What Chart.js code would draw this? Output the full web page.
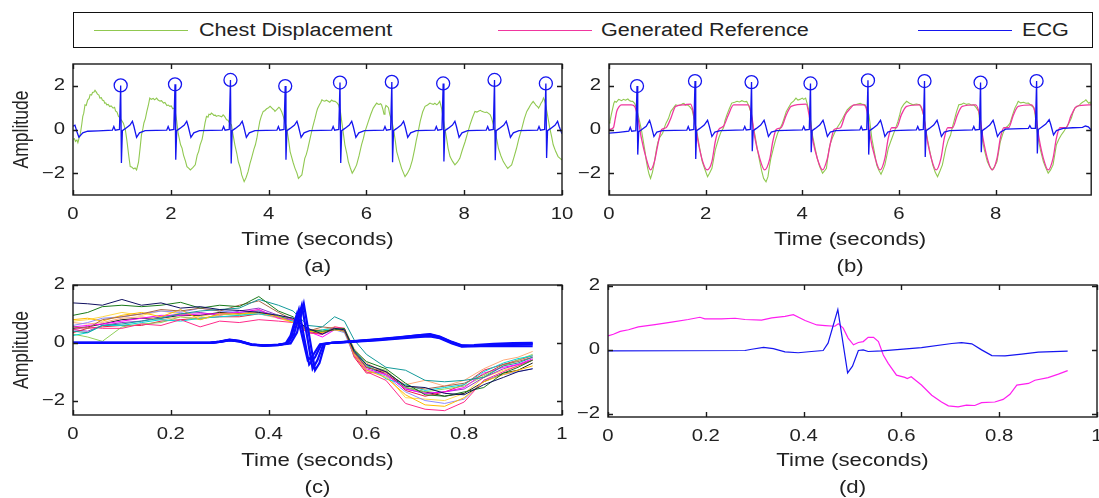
<!DOCTYPE html>
<html>
<head>
<meta charset="utf-8">
<script src="https://cdn.jsdelivr.net/npm/chart.js@4.4.1/dist/chart.umd.min.js"></script>
<style>
    body { margin: 0; background: #fff; width: 1099px; height: 498px; overflow: hidden; position: relative;
           font-family: "Liberation Sans", Arial, Helvetica, sans-serif; color: #222; }
    canvas { position: absolute; }
    #legend { position: absolute; left: 73px; top: 12px; width: 1018px; height: 34px; border: 1.5px solid #111; }
    .key { position: absolute; top: 17px; height: 0; border-top: 1.5px solid; }
    .label { position: absolute; top: 6px; font-size: 18px; line-height: 22px; transform: scaleX(1.2); transform-origin: left center; white-space: nowrap; }
</style>
</head>
<body>
<div id="legend"></div>
<canvas id="chartA" width="575" height="224" style="left:0px;top:56px"></canvas>
<canvas id="chartB" width="524" height="224" style="left:575px;top:56px"></canvas>
<canvas id="chartC" width="575" height="233" style="left:0px;top:268px"></canvas>
<canvas id="chartD" width="524" height="233" style="left:575px;top:268px"></canvas>
<script>
const GREEN = '#90c850';
const PINK = '#f0369f';
const MAGENTA = '#ff1ef0';
const BLUE = '#1515f0';

const legendLabels = ['Chest Displacement', 'Generated Reference', 'ECG'];
const legendColors = [GREEN, PINK, BLUE];

// (a) raw chest displacement and ECG, 0-10 s
const chestA = [[0,-0.45],[0.03,-0.42],[0.05,-0.55],[0.08,-0.48],[0.1,-0.6],[0.13,-0.35],[0.15,-0.2],[0.18,0.25],[0.2,0.6],[0.22,0.75],
    [0.245,1.13],[0.27,1.1],[0.3,1.35],[0.33,1.42],[0.35,1.6],[0.38,1.58],[0.4,1.7],[0.43,1.72],[0.45,1.8],[0.48,1.7],
    [0.5,1.62],[0.53,1.58],[0.55,1.44],[0.58,1.46],[0.6,1.35],[0.63,1.32],[0.65,1.2],[0.67,1.22],[0.69,1.13],[0.72,1.15],
    [0.75,1.05],[0.78,1.08],[0.82,0.98],[0.85,1.02],[0.87,0.85],[0.9,0.8],[0.93,0.6],[0.96,0.55],[0.98,0.45],[1.0,0.4],
    [1.03,0.29],[1.07,0.0],[1.1,-0.47],[1.14,-1.2],[1.17,-1.7],[1.2,-1.72],[1.24,-1.8],[1.27,-1.76],[1.3,-1.85],[1.34,-1.5],
    [1.37,-0.9],[1.4,-0.25],[1.43,0.05],[1.45,0.3],[1.48,0.5],[1.51,0.83],[1.54,1.1],[1.57,1.44],[1.6,1.38],[1.64,1.42],
    [1.67,1.36],[1.71,1.44],[1.74,1.35],[1.78,1.3],[1.81,1.32],[1.85,1.21],[1.88,1.24],[1.92,1.1],[1.95,1.12],[1.98,1.06],
    [2.01,1.08],[2.04,0.95],[2.07,0.98],[2.09,0.83],[2.12,0.4],[2.15,-0.17],[2.2,-0.7],[2.23,-0.85],[2.26,-1.17],[2.3,-1.45],
    [2.33,-1.7],[2.37,-1.78],[2.4,-1.85],[2.45,-1.75],[2.5,-1.62],[2.54,-1.17],[2.57,-1.0],[2.6,-0.7],[2.64,-0.45],[2.67,-0.1],
    [2.7,0.3],[2.73,0.6],[2.76,0.56],[2.78,0.7],[2.81,0.68],[2.83,0.75],[2.86,0.7],[2.88,0.65],[2.91,0.66],[2.93,0.6],
    [2.97,0.64],[3.0,0.62],[3.04,0.58],[3.07,0.67],[3.1,0.6],[3.14,0.44],[3.17,0.42],[3.2,0.3],[3.24,0.22],[3.27,-0.2],
    [3.31,-0.7],[3.35,-1.1],[3.38,-1.47],[3.42,-1.75],[3.45,-2.08],[3.5,-2.39],[3.54,-2.2],[3.58,-1.93],[3.62,-1.55],[3.65,-1.32],
    [3.7,-0.9],[3.73,-0.7],[3.76,-0.4],[3.79,0.0],[3.82,0.37],[3.85,0.6],[3.89,0.83],[3.92,0.86],[3.96,0.95],[3.99,0.98],
    [4.03,1.06],[4.06,1.0],[4.08,0.95],[4.11,0.9],[4.13,0.83],[4.16,0.9],[4.18,0.95],[4.21,1.02],[4.23,0.98],[4.27,0.8],
    [4.3,0.6],[4.34,0.3],[4.37,0.06],[4.41,-0.5],[4.44,-1.01],[4.47,-1.25],[4.5,-1.5],[4.54,-1.78],[4.58,-2.0],[4.61,-2.24],
    [4.65,-2.15],[4.68,-2.08],[4.71,-1.7],[4.74,-1.32],[4.77,-1.15],[4.8,-0.9],[4.85,-0.4],[4.9,0.1],[4.95,0.52],[4.98,0.8],
    [5.0,0.95],[5.04,1.13],[5.07,1.25],[5.09,1.36],[5.12,1.32],[5.15,1.3],[5.18,1.34],[5.22,1.29],[5.25,1.25],[5.29,1.35],
    [5.32,1.3],[5.36,1.29],[5.4,1.22],[5.43,1.13],[5.47,0.8],[5.5,0.29],[5.53,-0.2],[5.56,-0.7],[5.6,-1.1],[5.63,-1.47],
    [5.67,-1.75],[5.71,-2.0],[5.75,-1.85],[5.8,-1.62],[5.85,-1.2],[5.9,-0.7],[5.94,-0.4],[5.97,-0.1],[6.0,0.1],[6.04,0.37],
    [6.09,0.7],[6.14,0.98],[6.17,1.08],[6.21,1.21],[6.24,1.16],[6.26,1.15],[6.29,1.18],[6.31,1.13],[6.34,0.9],[6.36,0.7],
    [6.38,0.95],[6.4,1.1],[6.43,1.05],[6.45,1.0],[6.48,0.67],[6.52,0.4],[6.55,0.06],[6.59,-0.5],[6.62,-1.01],[6.67,-1.4],
    [6.72,-1.78],[6.76,-2.0],[6.79,-2.16],[6.84,-2.0],[6.89,-1.78],[6.94,-1.4],[6.99,-0.86],[7.02,-0.5],[7.05,-0.2],[7.1,0.37],
    [7.15,0.8],[7.2,1.06],[7.25,1.12],[7.3,1.21],[7.33,1.18],[7.37,1.15],[7.4,1.2],[7.44,1.13],[7.47,1.2],[7.5,1.29],
    [7.54,0.95],[7.57,0.52],[7.6,0.1],[7.64,-0.4],[7.67,-0.85],[7.71,-1.24],[7.76,-1.45],[7.81,-1.62],[7.86,-1.5],[7.91,-1.32],
    [7.96,-0.95],[8.02,-0.55],[8.07,-0.15],[8.12,0.22],[8.17,0.55],[8.22,0.83],[8.26,0.8],[8.3,0.85],[8.33,0.88],[8.36,0.83],
    [8.4,0.8],[8.43,0.78],[8.46,0.8],[8.49,0.75],[8.53,0.68],[8.56,0.52],[8.6,0.2],[8.63,-0.1],[8.67,-0.5],[8.7,-0.86],
    [8.75,-1.2],[8.8,-1.47],[8.85,-1.65],[8.89,-1.78],[8.93,-1.7],[8.97,-1.62],[9.02,-1.25],[9.07,-0.86],[9.12,-0.4],[9.18,0.06],
    [9.23,0.5],[9.28,0.83],[9.32,0.98],[9.35,1.1],[9.38,1.2],[9.41,1.29],[9.44,1.2],[9.47,1.1],[9.5,1.05],[9.52,0.98],
    [9.55,1.1],[9.57,1.2],[9.6,1.3],[9.62,1.44],[9.64,1.35],[9.66,1.2],[9.69,0.83],[9.72,0.45],[9.75,0.06],[9.79,-0.35],
    [9.82,-0.7],[9.87,-1.0],[9.92,-1.24],[9.96,-1.32],[10.0,-1.4]];

const ecgA = [[0,0.15],[0.04,0.2],[0.08,-0.1],[0.12,-0.35],[0.2,-0.15],[0.3,-0.08],[0.52,-0.06],
    [0.805,-0.03],[0.835,0.14],[0.865,-0.03],[0.95,0.0],[0.975,2.02],[0.99,-1.53],[1.01,-0.05],[1.075,0.05],[1.165,0.2],[1.215,0.38],[1.245,0.15],[1.3,-0.36],[1.36,-0.15],[1.475,-0.05],
    [1.916,-0.03],[1.946,0.14],[1.976,-0.03],[2.061,0.0],[2.086,2.07],[2.101,-1.38],[2.121,-0.05],[2.186,0.05],[2.276,0.2],[2.326,0.38],[2.356,0.15],[2.411,-0.36],[2.471,-0.15],[2.586,-0.05],
    [3.05,-0.03],[3.08,0.14],[3.11,-0.03],[3.195,0.0],[3.22,2.27],[3.235,-1.56],[3.255,-0.05],[3.32,0.05],[3.41,0.2],[3.46,0.38],[3.49,0.15],[3.545,-0.36],[3.605,-0.15],[3.72,-0.05],
    [4.17,-0.03],[4.2,0.14],[4.23,-0.03],[4.315,0.0],[4.34,1.99],[4.355,-1.38],[4.375,-0.05],[4.44,0.05],[4.53,0.2],[4.58,0.38],[4.61,0.15],[4.665,-0.36],[4.725,-0.15],[4.84,-0.05],
    [5.29,-0.03],[5.32,0.14],[5.35,-0.03],[5.435,0.0],[5.46,2.15],[5.475,-1.53],[5.495,-0.05],[5.56,0.05],[5.65,0.2],[5.7,0.38],[5.73,0.15],[5.785,-0.36],[5.845,-0.15],[5.96,-0.05],
    [6.35,-0.03],[6.38,0.14],[6.41,-0.03],[6.495,0.0],[6.52,2.18],[6.535,-1.5],[6.555,-0.05],[6.62,0.05],[6.71,0.2],[6.76,0.38],[6.79,0.15],[6.845,-0.36],[6.905,-0.15],[7.02,-0.05],
    [7.4,-0.03],[7.43,0.14],[7.46,-0.03],[7.545,0.0],[7.57,2.11],[7.585,-1.46],[7.605,-0.05],[7.67,0.05],[7.76,0.2],[7.81,0.38],[7.84,0.15],[7.895,-0.36],[7.955,-0.15],[8.07,-0.05],
    [8.45,-0.03],[8.48,0.14],[8.51,-0.03],[8.595,0.0],[8.62,2.27],[8.635,-1.41],[8.655,-0.05],[8.72,0.05],[8.81,0.2],[8.86,0.38],[8.89,0.15],[8.945,-0.36],[9.005,-0.15],[9.12,-0.05],
    [9.5,-0.03],[9.53,0.14],[9.56,-0.03],[9.645,0.0],[9.67,2.11],[9.685,-1.3],[9.705,-0.05],[9.77,0.05],[9.86,0.2],[9.91,0.38],[9.94,0.15],[10.0,-0.2]];

const peaksA = [[0.975,2.02],[2.086,2.07],[3.22,2.27],[4.34,1.99],[5.46,2.15],[6.52,2.18],[7.57,2.11],[8.62,2.27],[9.67,2.11]];

// (b) chest displacement, generated reference and ECG
const chestB = [[0,0.3],[0.02,0.37],[0.05,0.7],[0.07,0.9],[0.1,1.2],[0.12,1.29],[0.15,1.25],[0.17,1.3],[0.2,1.38],[0.22,1.36],
    [0.26,1.32],[0.3,1.38],[0.34,1.34],[0.39,1.4],[0.42,1.33],[0.45,1.3],[0.49,1.29],[0.53,1.2],[0.57,0.98],[0.62,0.5],
    [0.67,0.0],[0.7,-0.4],[0.74,-0.93],[0.77,-1.4],[0.8,-1.78],[0.83,-2.05],[0.86,-2.24],[0.9,-1.95],[0.93,-1.62],[0.98,-0.93],
    [1.01,-0.6],[1.04,-0.4],[1.07,-0.3],[1.11,-0.17],[1.14,0.05],[1.18,0.29],[1.23,0.5],[1.28,0.83],[1.33,0.98],[1.38,1.13],
    [1.43,1.1],[1.49,1.13],[1.52,1.18],[1.55,1.2],[1.58,1.12],[1.62,1.13],[1.67,1.05],[1.72,0.9],[1.77,0.4],[1.83,-0.25],
    [1.88,-0.9],[1.93,-1.47],[1.98,-1.8],[2.04,-2.16],[2.08,-2.0],[2.13,-1.78],[2.17,-1.3],[2.2,-0.93],[2.27,-0.4],[2.32,-0.1],
    [2.37,0.08],[2.4,0.4],[2.44,0.67],[2.49,0.95],[2.54,1.21],[2.6,1.25],[2.65,1.29],[2.7,1.26],[2.75,1.32],[2.8,1.27],
    [2.85,1.29],[2.89,1.1],[2.93,0.83],[2.97,0.3],[3.02,-0.25],[3.07,-0.9],[3.12,-1.47],[3.16,-1.9],[3.2,-2.24],[3.25,-2.4],
    [3.29,-2.16],[3.32,-1.7],[3.35,-1.32],[3.42,-0.7],[3.45,-0.45],[3.49,-0.17],[3.54,0.05],[3.59,0.29],[3.63,0.55],[3.67,0.83],
    [3.72,1.02],[3.77,1.21],[3.82,1.3],[3.87,1.44],[3.91,1.35],[3.95,1.38],[4.0,1.44],[4.03,1.38],[4.07,1.44],[4.1,1.2],
    [4.14,0.83],[4.18,0.3],[4.21,-0.25],[4.26,-0.8],[4.31,-1.32],[4.36,-1.7],[4.42,-2.0],[4.46,-1.9],[4.5,-1.78],[4.55,-0.93],
    [4.58,-0.65],[4.62,-0.4],[4.67,-0.15],[4.72,0.08],[4.77,0.25],[4.82,0.44],[4.87,0.65],[4.93,0.9],[5.0,1.06],[5.05,1.1],
    [5.1,1.13],[5.15,1.17],[5.2,1.2],[5.25,1.15],[5.3,1.13],[5.34,0.95],[5.38,0.67],[5.44,-0.4],[5.49,-1.0],[5.54,-1.62],
    [5.58,-1.85],[5.63,-2.05],[5.67,-1.85],[5.71,-1.62],[5.75,-1.2],[5.78,-0.86],[5.83,-0.55],[5.88,-0.25],[5.93,0.05],[5.98,0.37],
    [6.02,0.7],[6.05,0.98],[6.1,1.15],[6.16,1.29],[6.22,1.2],[6.29,1.13],[6.36,1.17],[6.43,1.13],[6.47,0.95],[6.51,0.67],
    [6.55,0.1],[6.6,-0.55],[6.65,-1.1],[6.7,-1.62],[6.75,-1.95],[6.8,-2.16],[6.85,-1.9],[6.9,-1.62],[6.94,-1.2],[6.97,-0.86],
    [7.02,-0.5],[7.07,-0.25],[7.1,0.05],[7.14,0.37],[7.19,0.8],[7.24,1.13],[7.29,1.15],[7.34,1.21],[7.4,1.15],[7.45,1.18],
    [7.5,1.12],[7.55,1.13],[7.6,1.0],[7.65,0.83],[7.68,0.2],[7.72,-0.4],[7.77,-0.95],[7.83,-1.47],[7.88,-1.7],[7.93,-1.85],
    [7.98,-1.7],[8.03,-1.47],[8.07,-0.95],[8.1,-0.55],[8.15,-0.2],[8.2,0.08],[8.25,0.15],[8.3,0.29],[8.35,0.65],[8.4,0.98],
    [8.44,1.15],[8.47,1.29],[8.52,1.22],[8.58,1.25],[8.63,1.2],[8.68,1.21],[8.74,1.1],[8.8,0.98],[8.84,0.3],[8.88,-0.4],
    [8.93,-0.95],[8.99,-1.47],[9.04,-1.75],[9.09,-2.0],[9.14,-1.85],[9.19,-1.62],[9.23,-1.1],[9.26,-0.7],[9.31,-0.45],[9.36,-0.25],
    [9.41,-0.1],[9.46,0.08],[9.52,0.3],[9.57,0.52],[9.6,0.75],[9.64,0.98],[9.69,1.05],[9.74,1.13],[9.77,1.2],[9.8,1.25],
    [9.84,1.3],[9.87,1.36],[9.9,1.28],[9.93,1.2],[9.96,1.25],[9.98,1.13]];

const referenceB = [[0,0.0],[0.09,0.08],[0.13,0.5],[0.16,0.83],[0.21,1.05],[0.26,1.13],[0.46,1.13],[0.53,1.06],[0.6,0.52],[0.67,-0.4],
    [0.77,-1.32],[0.86,-1.85],[0.94,-1.47],[1.01,-0.7],[1.09,0.0],[1.18,0.08],[1.28,0.52],[1.38,1.06],[1.55,1.13],[1.69,1.16],
    [1.74,0.83],[1.83,-0.4],[1.93,-1.4],[2.03,-1.85],[2.13,-1.47],[2.2,-0.55],[2.27,0.0],[2.37,0.15],[2.47,0.67],[2.58,1.13],
    [2.88,1.13],[2.95,0.67],[3.02,-0.4],[3.12,-1.32],[3.22,-1.85],[3.33,-1.32],[3.39,-0.55],[3.46,0.0],[3.56,0.08],[3.67,0.67],
    [3.77,1.06],[4.08,1.16],[4.14,0.67],[4.21,-0.4],[4.31,-1.32],[4.42,-1.85],[4.52,-1.32],[4.59,-0.55],[4.66,0.0],[4.79,0.08],
    [4.89,0.67],[5.0,0.98],[5.07,1.13],[5.27,1.13],[5.34,0.83],[5.4,-0.25],[5.51,-1.32],[5.61,-1.85],[5.71,-1.32],[5.78,-0.4],
    [5.85,0.08],[5.95,0.08],[6.05,0.67],[6.16,1.06],[6.43,1.13],[6.51,0.67],[6.58,-0.4],[6.67,-1.32],[6.77,-1.85],[6.87,-1.32],
    [6.94,-0.4],[7.01,0.08],[7.11,0.08],[7.21,0.67],[7.31,1.06],[7.59,1.13],[7.67,0.67],[7.74,-0.4],[7.83,-1.32],[7.93,-1.85],
    [8.03,-1.32],[8.1,-0.4],[8.17,0.08],[8.27,0.08],[8.37,0.67],[8.47,1.06],[8.75,1.13],[8.83,0.67],[8.9,-0.4],[8.99,-1.32],
    [9.09,-1.85],[9.19,-1.32],[9.26,-0.4],[9.33,0.08],[9.46,0.08],[9.57,0.67],[9.68,1.06],[9.98,1.13]];

const ecgB = [[0,-0.17],[0.2,-0.13],[0.41,-0.08],
    [0.44,0.1],[0.47,-0.08],[0.555,-0.05],[0.58,1.99],[0.595,-1.15],[0.615,-0.1],[0.68,0.0],[0.77,0.15],[0.84,0.42],[0.87,0.2],[0.93,-0.32],[0.99,-0.12],[1.1,-0.05],
    [1.61,-0.03],[1.64,0.14],[1.67,-0.03],[1.755,0.0],[1.78,2.22],[1.795,-1.35],[1.815,-0.05],[1.88,0.05],[1.97,0.2],[2.04,0.42],[2.07,0.2],[2.13,-0.32],[2.19,-0.12],[2.3,-0.05],
    [2.78,-0.02],[2.81,0.14],[2.84,-0.02],[2.925,0.0],[2.95,2.17],[2.965,-1.0],[2.985,-0.05],[3.05,0.05],[3.14,0.2],[3.21,0.42],[3.24,0.2],[3.3,-0.32],[3.36,-0.12],[3.47,-0.05],
    [4.0,-0.02],[4.03,0.14],[4.06,-0.02],[4.145,0.0],[4.17,2.11],[4.185,-1.04],[4.205,-0.05],[4.27,0.05],[4.36,0.2],[4.43,0.42],[4.46,0.2],[4.52,-0.32],[4.58,-0.12],[4.69,-0.05],
    [5.19,-0.02],[5.22,0.14],[5.25,-0.02],[5.335,0.0],[5.36,2.25],[5.375,-1.15],[5.395,-0.05],[5.46,0.05],[5.55,0.2],[5.62,0.42],[5.65,0.2],[5.71,-0.32],[5.77,-0.12],[5.88,-0.05],
    [6.36,-0.02],[6.39,0.14],[6.42,-0.02],[6.505,0.0],[6.53,2.22],[6.545,-1.26],[6.565,-0.05],[6.63,0.05],[6.72,0.2],[6.79,0.42],[6.82,0.2],[6.88,-0.32],[6.94,-0.12],[7.05,-0.05],
    [7.52,-0.02],[7.55,0.14],[7.58,-0.02],[7.665,0.0],[7.69,2.15],[7.705,-1.04],[7.725,-0.05],[7.79,0.05],[7.88,0.2],[7.95,0.42],[7.98,0.2],[8.04,-0.32],[8.1,-0.12],[8.21,0.02],
    [8.68,0.05],[8.71,0.18],[8.74,0.05],[8.825,0.05],[8.85,2.22],[8.865,-1.1],[8.885,0.0],[8.95,0.1],[9.04,0.25],[9.11,0.45],[9.14,0.25],[9.2,-0.25],[9.26,-0.05],[9.4,0.05],[9.6,0.08],[9.8,0.1],[9.86,0.16],[9.92,0.12],[9.98,-0.02]];

const peaksB = [[0.58,1.99],[1.78,2.22],[2.95,2.17],[4.17,2.11],[5.36,2.25],[6.53,2.22],[7.69,2.15],[8.85,2.22]];

// (c) beat-aligned segments
const segmentTime = [0,0.03,0.06,0.1,0.14,0.18,0.22,0.26,0.3,0.34,0.38,0.42,0.45,0.48,0.51,0.535,0.555,0.575,0.6,0.64,0.68,0.72,0.76,0.8,0.84,0.88,0.91,0.94];
const segmentColors = ['#101060','#1a7a1a','#139a9a','#a8674a','#ffbb00','#ff2a8a','#ff00ff','#00d8d8','#8fcf5a','#8c8cff','#ffab7a','#ea2048','#222222','#9a38c8','#ffd84a'];
const chestSegments = [
    [1.38,1.35,1.3,1.5,1.3,1.38,1.2,1.25,1.15,1.12,1.05,0.95,0.85,0.5,0.3,0.5,0.45,-0.3,-0.75,-1.0,-1.5,-1.55,-1.75,-1.8,-1.45,-1.2,-1.0,-0.9],
    [0.95,1.05,1.25,1.3,1.25,1.3,1.4,1.2,1.3,1.25,1.6,1.1,0.9,0.45,0.4,0.45,0.5,-0.25,-0.65,-0.9,-1.4,-1.8,-1.85,-1.7,-1.55,-1.05,-0.85,-0.6],
    [0.4,0.35,0.6,0.65,0.75,0.85,1.0,1.1,1.15,1.2,1.5,1.3,1.1,0.6,0.55,0.9,0.75,0.1,-0.4,-0.85,-0.95,-1.3,-1.35,-1.3,-1.2,-0.8,-0.7,-0.5],
    [0.55,0.5,0.8,0.9,1.0,1.15,1.1,1.2,1.1,1.3,1.45,1.05,0.8,0.4,0.55,0.5,0.4,-0.35,-0.85,-1.0,-1.5,-1.6,-1.5,-1.4,-1.1,-0.75,-0.65,-0.5],
    [0.8,0.85,0.75,0.95,1.05,0.9,1.15,0.8,1.0,1.0,1.05,0.9,0.7,0.4,0.35,0.45,0.4,-0.4,-0.95,-1.2,-1.8,-2.15,-2.2,-1.9,-1.35,-1.1,-0.95,-0.8],
    [0.45,0.55,0.5,0.5,0.65,0.6,0.8,0.55,0.75,0.7,0.8,0.75,0.7,0.35,0.3,0.55,0.5,-0.45,-1.0,-1.3,-2.1,-2.3,-2.35,-2.05,-1.3,-1.0,-0.8,-0.6],
    [0.55,0.6,0.65,0.75,0.85,0.95,0.95,1.0,1.0,1.05,1.15,0.85,0.8,0.4,0.2,0.45,0.45,-0.35,-0.9,-1.1,-1.6,-1.75,-1.7,-1.55,-1.05,-0.85,-0.75,-0.55],
    [0.25,0.35,0.6,0.6,0.7,0.8,0.75,0.85,0.9,0.95,1.0,0.9,0.75,0.35,0.45,0.5,0.4,-0.25,-0.75,-1.25,-1.45,-1.65,-1.55,-1.45,-1.0,-0.7,-0.55,-0.45],
    [0.3,0.2,0.05,0.55,0.65,0.7,0.9,0.8,1.0,0.95,1.05,0.95,0.8,0.4,0.4,0.5,0.45,-0.3,-0.8,-0.95,-1.55,-1.7,-1.6,-1.5,-1.15,-0.8,-0.6,-0.4],
    [0.6,0.7,0.85,0.9,1.0,1.1,1.05,1.2,1.1,1.05,1.1,0.95,0.85,0.5,0.3,0.45,0.35,-0.45,-0.95,-1.15,-1.7,-2.0,-2.1,-1.95,-1.3,-1.1,-1.0,-0.9],
    [0.7,0.65,0.7,0.85,0.9,0.8,0.9,0.85,0.95,1.05,1.0,0.85,0.75,0.45,0.45,0.55,0.5,-0.2,-0.7,-1.05,-1.45,-1.3,-1.5,-1.3,-0.9,-0.6,-0.5,-0.3],
    [0.35,0.5,0.55,0.6,0.6,0.75,0.8,0.85,0.9,0.9,1.0,0.9,0.75,0.35,0.3,0.5,0.45,-0.5,-1.05,-1.0,-1.65,-1.85,-1.7,-1.45,-0.95,-0.75,-0.6,-0.45],
    [0.5,0.55,0.65,0.8,0.85,0.85,0.95,0.95,1.05,1.0,1.1,0.9,0.8,0.4,0.3,0.5,0.45,-0.3,-0.85,-1.05,-1.55,-1.7,-1.85,-1.75,-1.35,-1.05,-0.95,-0.7],
    [0.45,0.4,0.6,0.7,0.75,0.9,1.0,1.05,0.95,1.1,1.2,0.95,0.8,0.45,0.35,0.5,0.4,-0.35,-0.8,-1.1,-1.6,-1.75,-1.7,-1.6,-1.2,-0.9,-0.75,-0.6],
    [0.75,0.8,0.9,1.05,0.95,1.1,1.0,0.9,1.05,1.0,1.15,0.85,0.7,0.4,0.35,0.5,0.4,-0.4,-0.95,-1.1,-1.9,-1.95,-2.0,-1.75,-1.2,-0.95,-0.8,-0.6]
];
const ecgSegments = [
    [[0,0],[0.28,0],[0.3,0.04],[0.32,0.1],[0.34,0.06],[0.365,-0.06],[0.39,-0.1],[0.42,-0.07],[0.44,-0.02],[0.452,0.3],[0.468,1.3],[0.49,-0.9],[0.5,-0.6],[0.512,-0.05],[0.53,0.0],[0.56,0.03],[0.62,0.1],[0.67,0.17],[0.71,0.24],[0.73,0.25],[0.75,0.18],[0.775,0.0],[0.795,-0.12],[0.82,-0.11],[0.86,-0.07],[0.9,-0.05],[0.94,-0.03]],
    [[0,0],[0.28,0],[0.3,0.03],[0.32,0.09],[0.34,0.05],[0.365,-0.07],[0.39,-0.1],[0.42,-0.06],[0.438,-0.02],[0.448,0.3],[0.462,1.15],[0.483,-0.75],[0.495,-0.5],[0.508,-0.05],[0.53,0.0],[0.56,0.04],[0.62,0.12],[0.67,0.2],[0.71,0.27],[0.73,0.28],[0.75,0.2],[0.775,0.02],[0.795,-0.1],[0.82,-0.12],[0.86,-0.12],[0.9,-0.12],[0.94,-0.12]],
    [[0,0],[0.28,0],[0.3,0.04],[0.32,0.11],[0.34,0.07],[0.365,-0.05],[0.39,-0.09],[0.42,-0.07],[0.445,-0.02],[0.458,0.35],[0.472,1.35],[0.495,-0.95],[0.504,-0.7],[0.515,-0.05],[0.53,0.0],[0.56,0.03],[0.62,0.11],[0.67,0.19],[0.71,0.27],[0.73,0.3],[0.75,0.22],[0.775,0.03],[0.795,-0.09],[0.82,-0.08],[0.86,-0.04],[0.9,-0.01],[0.94,0.0]],
    [[0,0],[0.28,0],[0.3,0.03],[0.32,0.08],[0.34,0.05],[0.365,-0.06],[0.39,-0.1],[0.42,-0.08],[0.435,-0.02],[0.445,0.25],[0.458,1.0],[0.48,-0.6],[0.49,-0.45],[0.505,-0.05],[0.53,0.0],[0.56,0.02],[0.62,0.08],[0.67,0.15],[0.71,0.2],[0.73,0.22],[0.75,0.16],[0.775,-0.02],[0.795,-0.13],[0.82,-0.12],[0.86,-0.09],[0.9,-0.07],[0.94,-0.06]]
];

// (d) averaged reference and ECG
const referenceD = [[0,0.44],[0.011,0.49],[0.025,0.58],[0.042,0.63],[0.062,0.72],[0.096,0.79],[0.13,0.87],[0.164,0.95],[0.188,1.02],[0.198,0.97],
    [0.232,0.97],[0.26,0.99],[0.28,0.95],[0.314,0.93],[0.335,1.0],[0.362,1.05],[0.379,1.1],[0.403,0.92],[0.427,0.78],[0.444,0.76],
    [0.464,0.74],[0.471,0.82],[0.481,0.68],[0.491,0.37],[0.502,0.16],[0.512,0.23],[0.522,0.26],[0.532,0.39],[0.543,0.39],[0.553,0.26],
    [0.563,-0.16],[0.573,-0.42],[0.59,-0.79],[0.607,-0.86],[0.612,-0.9],[0.62,-0.84],[0.641,-1.1],[0.662,-1.42],[0.682,-1.63],[0.696,-1.75],
    [0.716,-1.78],[0.733,-1.73],[0.75,-1.74],[0.764,-1.65],[0.791,-1.63],[0.808,-1.55],[0.822,-1.39],[0.836,-1.1],[0.86,-1.05],[0.873,-0.95],
    [0.9,-0.87],[0.921,-0.76],[0.94,-0.65]];
const ecgD = [[0,-0.03],[0.28,-0.02],[0.294,0.02],[0.318,0.08],[0.338,0.04],[0.362,-0.06],[0.389,-0.09],[0.416,-0.05],[0.44,-0.02],[0.45,0.21],
    [0.47,1.26],[0.49,-0.72],[0.5,-0.51],[0.512,-0.02],[0.522,0.0],[0.532,-0.05],[0.56,-0.03],[0.641,0.07],[0.703,0.2],[0.723,0.23],
    [0.744,0.19],[0.764,0.0],[0.785,-0.18],[0.812,-0.19],[0.846,-0.13],[0.88,-0.07],[0.94,-0.04]];

const ticksTen = [0, 2, 4, 6, 8, 10];
const ticksNine = [0, 2, 4, 6, 8];
const ticksOne = [0, 0.2, 0.4, 0.6, 0.8, 1];
const ticksAmp = [-2, 0, 2];

const TEXT_STRETCH = 1.27;
const FONT = '"Liberation Sans", Arial, Helvetica, sans-serif';

function pts(arr) {
    return arr.map(p => ({ x: p[0], y: p[1] }));
}

function tickText(v) {
    return v < 0 ? '\u2212' + Math.abs(v) : String(v);
}

// no extra room for overhanging tick labels, the plot box is placed by hand
function noOverhang(s) {
    s.paddingLeft = 0;
    s.paddingRight = 0;
    s.paddingTop = 0;
    s.paddingBottom = 0;
}

// reference text is drawn wider than usual, so widen glyphs around their anchor
const stretchText = {
    id: 'stretchText',
    beforeInit(chart) {
        const ctx = chart.ctx;
        const fill = ctx.fillText.bind(ctx);
        ctx.fillText = function(text, x, y) {
            const m = ctx.getTransform();
            const p = m.transformPoint(new DOMPoint(x, y));
            ctx.save();
            ctx.setTransform(new DOMMatrix().translate(p.x, p.y).scale(TEXT_STRETCH, 1).translate(-p.x, -p.y).multiply(m));
            fill(text, x, y);
            ctx.restore();
        };
    }
};

// matlab style box with inward ticks on all four sides
const matlabBox = {
    id: 'matlabBox',
    afterDraw(chart) {
        const { ctx, chartArea: a, scales: { x, y } } = chart;
        ctx.save();
        ctx.strokeStyle = '#1a1a1a';
        ctx.lineWidth = 1.4;
        ctx.beginPath();
        x.ticks.forEach(t => {
            const px = Math.round(x.getPixelForValue(t.value)) + 0.5;
            ctx.moveTo(px, a.bottom); ctx.lineTo(px, a.bottom - 5);
            ctx.moveTo(px, a.top); ctx.lineTo(px, a.top + 5);
        });
        y.ticks.forEach(t => {
            const py = Math.round(y.getPixelForValue(t.value)) + 0.5;
            ctx.moveTo(a.left, py); ctx.lineTo(a.left + 5, py);
            ctx.moveTo(a.right, py); ctx.lineTo(a.right - 5, py);
        });
        ctx.stroke();
        ctx.strokeRect(a.left, a.top, a.right - a.left, a.bottom - a.top);
        ctx.restore();
    }
};

function makePlot(id, p, datasets) {
    return new Chart(document.getElementById(id), {
        type: 'line',
        data: { datasets: datasets },
        plugins: [stretchText, matlabBox],
        options: {
            responsive: false,
            animation: false,
            events: [],
            layout: { padding: { left: 0, right: p.padRight, top: p.padTop, bottom: 0 } },
            plugins: { legend: { display: false }, tooltip: { enabled: false } },
            elements: { point: { radius: 0 }, line: { borderWidth: 1, tension: 0 } },
            scales: {
                x: {
                    type: 'linear', min: p.xMin, max: p.xMax,
                    afterBuildTicks: s => { s.ticks = p.xTicks.map(v => ({ value: v })); },
                    afterFit: s => { s.height = p.xHeight; noOverhang(s); },
                    grid: { display: false, drawTicks: false },
                    border: { display: false },
                    ticks: { color: '#222', font: { family: FONT, size: 16 }, padding: 10, maxRotation: 0, autoSkip: false, callback: tickText },
                    title: { display: true, text: ['Time (seconds)', p.caption], color: '#222',
                             font: { family: FONT, size: 17.5, lineHeight: 1.514 }, padding: { top: 0, bottom: 0 } }
                },
                y: {
                    type: 'linear', min: p.yMin, max: p.yMax,
                    afterBuildTicks: s => { s.ticks = ticksAmp.map(v => ({ value: v })); },
                    afterFit: s => { s.width = p.yWidth; noOverhang(s); },
                    grid: { display: false, drawTicks: false },
                    border: { display: false },
                    ticks: { color: '#222', font: { family: FONT, size: 16 }, padding: 8, autoSkip: false, callback: tickText },
                    title: { display: p.yTitle, text: 'Amplitude', color: '#222',
                             font: { family: FONT, size: 17.5, lineHeight: 1.2 }, padding: { top: 11, bottom: 0 } }
                }
            }
        }
    });
}

function lineSet(data, color, width, extra) {
    return Object.assign({ data: pts(data), borderColor: color, borderWidth: width, pointRadius: 0, fill: false }, extra || {});
}

function peakSet(data) {
    return { data: pts(data), showLine: false, pointRadius: 6.5, pointStyle: 'circle',
             pointBackgroundColor: 'rgba(0,0,0,0)', pointBorderColor: BLUE, pointBorderWidth: 1.3 };
}

makePlot('chartA', { xMin: 0, xMax: 10, xTicks: ticksTen, yMin: -3, yMax: 3, caption: '(a)', yTitle: true,
                     yWidth: 73, padRight: 13, padTop: 8, xHeight: 85 }, [
    peakSet(peaksA),
    lineSet(ecgA, BLUE, 1.3),
    lineSet(chestA, GREEN, 1.1)
]);

makePlot('chartB', { xMin: 0, xMax: 9.98, xTicks: ticksNine, yMin: -3, yMax: 3, caption: '(b)', yTitle: false,
                     yWidth: 34, padRight: 2, padTop: 8, xHeight: 85 }, [
    peakSet(peaksB),
    lineSet(ecgB, BLUE, 1.3),
    lineSet(referenceB, PINK, 1.3, { cubicInterpolationMode: 'monotone' }),
    lineSet(chestB, GREEN, 1.1)
]);

const setsC = ecgSegments.map(seg => lineSet(seg, '#0a0aff', 2.2));
chestSegments.forEach((vals, i) => {
    setsC.push(lineSet(vals.map((v, k) => [segmentTime[k], v]), segmentColors[i], 1));
});
makePlot('chartC', { xMin: 0, xMax: 1, xTicks: ticksOne, yMin: -2.5, yMax: 2, caption: '(c)', yTitle: true,
                     yWidth: 73, padRight: 13, padTop: 17, xHeight: 86 }, setsC);

makePlot('chartD', { xMin: 0, xMax: 1, xTicks: ticksOne, yMin: -2.1, yMax: 2.03, caption: '(d)', yTitle: false,
                     yWidth: 33, padRight: 2, padTop: 17, xHeight: 84 }, [
    lineSet(ecgD, BLUE, 1.2),
    lineSet(referenceD, MAGENTA, 1.2)
]);

// shared legend above the plots
const legend = document.getElementById('legend');
const keyLeft = [20, 424, 844];
const textLeft = [125, 527, 948];
legendLabels.forEach((label, i) => {
    const key = document.createElement('div');
    key.className = 'key';
    key.style.left = keyLeft[i] + 'px';
    key.style.width = '94px';
    key.style.borderColor = legendColors[i];
    legend.appendChild(key);
    const text = document.createElement('div');
    text.className = 'label';
    text.style.left = textLeft[i] + 'px';
    text.textContent = label;
    legend.appendChild(text);
});
</script>
</body>
</html>
